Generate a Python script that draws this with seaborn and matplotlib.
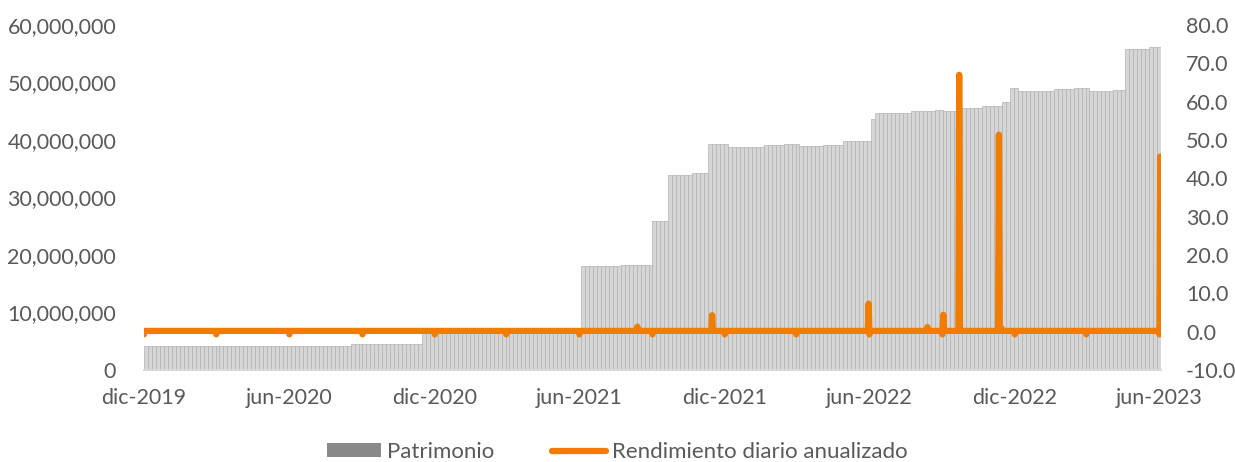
# Patrimonio (barras) y rendimiento diario anualizado (linea, eje derecho)

import numpy as np
import pandas as pd
import seaborn as sns
import matplotlib.pyplot as plt
from matplotlib.patches import Patch
from matplotlib.lines import Line2D

# --- datos ---
# niveles de patrimonio (escalones): fecha de inicio y valor
patrimonio_inicio = ["2019-12-01", "2020-08-13", "2020-11-15", "2021-06-01", "2021-07-20",
                     "2021-09-01", "2021-09-21", "2021-10-20", "2021-11-09", "2021-12-02",
                     "2022-01-15", "2022-02-10", "2022-03-01", "2022-04-01", "2022-04-28",
                     "2022-06-01", "2022-06-07", "2022-07-20", "2022-08-20", "2022-09-01",
                     "2022-09-22", "2022-10-20", "2022-11-11", "2022-11-21", "2022-12-02",
                     "2023-01-15", "2023-02-10", "2023-03-01", "2023-04-01", "2023-04-18",
                     "2023-05-15", "2023-05-30"]
patrimonio_valor = [4.17e6, 4.45e6, 6.9e6, 18.1e6, 18.25e6,
                    26.0e6, 34.0e6, 34.2e6, 39.3e6, 38.8e6,
                    39.1e6, 39.3e6, 38.95e6, 39.1e6, 39.8e6,
                    43.6e6, 44.7e6, 45.0e6, 45.3e6, 45.0e6,
                    45.6e6, 45.9e6, 46.6e6, 49.0e6, 48.6e6,
                    48.9e6, 49.1e6, 48.6e6, 48.75e6, 55.9e6,
                    56.2e6, 55.7e6]
fecha_fin = "2023-06-03"

# rendimiento: nivel habitual y dias con valores distintos
rend_base = 0.2
rend_fechas = ["2019-12-01", "2020-03-01", "2020-06-01", "2020-09-01", "2020-12-01",
               "2021-03-01", "2021-06-01", "2021-08-13", "2021-09-01", "2021-11-15",
               "2021-12-01", "2022-03-01", "2022-05-31", "2022-06-01", "2022-08-13",
               "2022-09-01", "2022-09-02", "2022-09-22", "2022-11-11", "2022-11-14",
               "2022-12-01", "2023-03-01", "2023-06-01", "2023-06-02"]
rend_valor = [-0.7, -0.7, -0.7, -0.7, -0.7,
              -0.7, -0.7, 1.3, -0.7, 4.3,
              -0.7, -0.7, 7.3, -0.7, 1.2,
              -0.7, 4.4, 67.0, 51.4, 1.0,
              -0.7, -0.7, -0.7, 45.7]

meses = ["ene", "feb", "mar", "abr", "may", "jun", "jul", "ago", "sep", "oct", "nov", "dic"]

# --- series ---
niveles = pd.Series(patrimonio_valor, index=pd.to_datetime(patrimonio_inicio))
barras_x = pd.date_range("2019-12-01", fecha_fin, freq="5D")
barras_y = niveles.reindex(barras_x, method="ffill")

dias = pd.date_range("2019-12-01", "2023-06-02", freq="D")
rend = pd.Series(rend_valor, index=pd.to_datetime(rend_fechas)).reindex(dias).fillna(rend_base)
rend_df = pd.DataFrame({"fecha": dias, "rend": rend.values})

# --- grafico ---
sns.set_style("white")
plt.rcParams["font.family"] = ["Lato", "DejaVu Sans"]
gris_txt = "#595959"
naranja = "#f07c00"

fig = plt.figure(figsize=(12.35, 4.62), dpi=100)
ax = fig.add_axes([144 / 1235, 1 - 370 / 462, (1161 - 144) / 1235, (370 - 25) / 462])

ax.bar(barras_x, barras_y.values, width=5, align="edge",
       color="#d6d6d6", edgecolor="#b2b2b2", linewidth=0.5)
ax.set_ylim(0, 60e6)
ax.set_yticks(np.arange(0, 60e6 + 1, 10e6))
ax.yaxis.set_major_formatter(plt.FuncFormatter(lambda v, p: f"{v:,.0f}"))
ax.set_xlim(pd.Timestamp("2019-12-01"), pd.Timestamp(fecha_fin))

ticks = pd.date_range("2019-12-01", "2023-06-01", freq="6MS")
ax.set_xticks(ticks)
ax.set_xticklabels([f"{meses[t.month - 1]}-{t.year}" for t in ticks])

ax2 = ax.twinx()
sns.lineplot(data=rend_df, x="fecha", y="rend", ax=ax2, color=naranja,
             linewidth=4.5, solid_capstyle="round", solid_joinstyle="round")
ax2.set_ylim(-10, 80)
ax2.set_yticks(np.arange(-10, 81, 10))
ax2.yaxis.set_major_formatter(plt.FuncFormatter(lambda v, p: f"{v:.1f}"))
ax2.set_xlabel("")
ax2.set_ylabel("")
ax.set_ylabel("")

for a in (ax, ax2):
    for s in ["top", "left", "right"]:
        a.spines[s].set_visible(False)
    a.spines["bottom"].set_color("#d9d9d9")
    a.spines["bottom"].set_linewidth(1.2)
    a.tick_params(axis="y", length=0, labelsize=15.5, labelcolor=gris_txt)
ax.tick_params(axis="y", pad=20)
ax2.tick_params(axis="y", pad=18)
ax.tick_params(axis="x", length=7, width=1.2, color="#d9d9d9", labelsize=15.5,
               labelcolor=gris_txt, pad=6, direction="out")
ax2.tick_params(axis="x", length=0)

handles = [Patch(facecolor="#898989", edgecolor="none"),
           Line2D([0], [0], color=naranja, linewidth=4.5, solid_capstyle="round")]
fig.legend(handles, ["Patrimonio", "Rendimiento diario anualizado"],
           loc="center", bbox_to_anchor=(0.5, 1 - 452 / 462), ncol=2, frameon=False,
           fontsize=16, labelcolor=gris_txt, handlelength=2.4, handleheight=0.55,
           handletextpad=0.3, columnspacing=2.6)

fig.savefig("out.png", dpi=100)
